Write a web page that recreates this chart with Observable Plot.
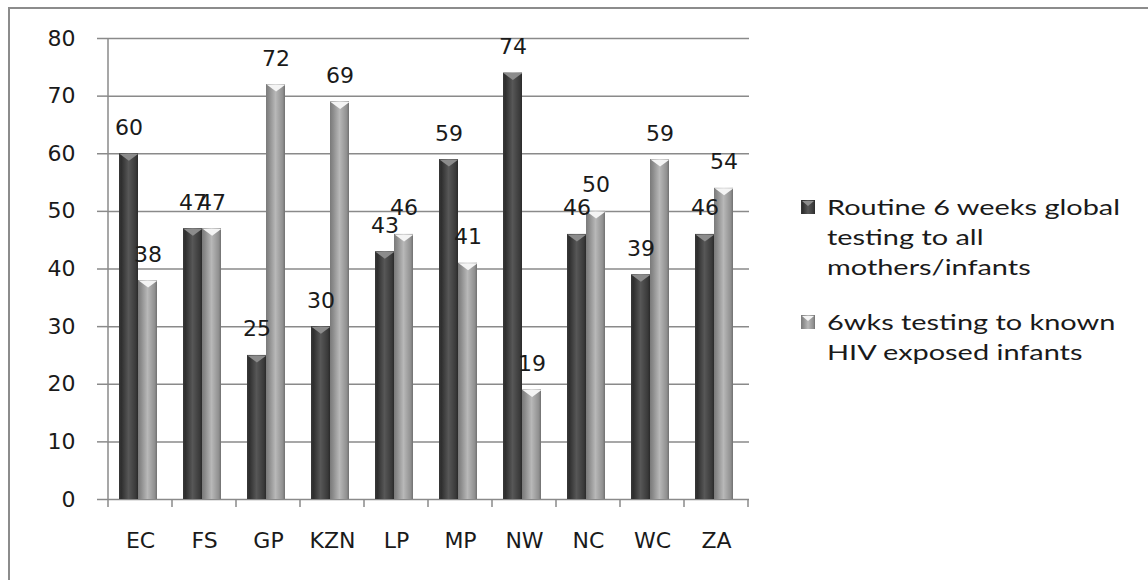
<!DOCTYPE html>
<html><head><meta charset="utf-8">
<script src="https://cdn.jsdelivr.net/npm/d3@7"></script>
<script src="https://cdn.jsdelivr.net/npm/@observablehq/plot@0.6"></script>
<style>
html,body{margin:0;padding:0;background:#fff;}
#wrap{position:relative;width:1148px;height:580px;overflow:hidden;background:#fff;}
#frame{position:absolute;left:8px;top:7px;width:1400px;height:800px;border-top:2px solid #8c8c8c;border-left:2px solid #8c8c8c;box-sizing:border-box;}
#chart{position:absolute;left:0;top:0;}
.item{position:absolute;left:801px;}
.item svg{position:absolute;left:0;}
.txt{position:absolute;left:26px;top:0;font-family:Lato,"Open Sans",sans-serif;font-size:21px;line-height:30px;color:#1a1a1a;white-space:nowrap;transform-origin:0 0;}
</style></head><body>
<div id="wrap"><div id="frame"></div><div id="chart"></div><div id="legend"></div></div>
<script>
// ---- data ----
const provinces = ["EC", "FS", "GP", "KZN", "LP", "MP", "NW", "NC", "WC", "ZA"];
const routine = [60, 47, 25, 30, 43, 59, 74, 46, 39, 46];
const exposed = [38, 47, 72, 69, 46, 41, 19, 50, 59, 54];
const yTicks = [0, 10, 20, 30, 40, 50, 60, 70, 80];
const seriesLabels = [
  ["Routine 6 weeks global", "testing to all", "mothers/infants"],
  ["6wks testing to known", "HIV exposed infants"]
];

const rowsA = provinces.map((p, i) => ({province: p, value: routine[i]}));
const rowsB = provinces.map((p, i) => ({province: p, value: exposed[i]}));

// flat-topped downward triangle (bevel cap on the bars)
const capSymbol = {draw(ctx) { ctx.moveTo(-9.5, 0); ctx.lineTo(9.5, 0); ctx.lineTo(0, 7); ctx.closePath(); }};

function gradDefs() {
  const defs = d3.create("svg:defs");
  const mk = (id, stops) => {
    const g = defs.append("linearGradient").attr("id", id).attr("x1", 0).attr("x2", 1).attr("y1", 0).attr("y2", 0);
    stops.forEach(([o, c]) => g.append("stop").attr("offset", o).attr("stop-color", c));
  };
  mk("gDark", [[0, "#383838"], [0.12, "#2e2e2e"], [0.5, "#575757"], [0.88, "#3a3a3a"], [1, "#2a2a2a"]]);
  mk("gLight", [[0, "#7a7a7a"], [0.15, "#8a8a8a"], [0.5, "#b8b8b8"], [0.88, "#909090"], [1, "#707070"]]);
  return defs.node();
}

function bandTicks(index, scales) {
  const {x, y} = scales;
  const bw = typeof x.bandwidth === "function" ? x.bandwidth() : (x(provinces[1]) - x(provinces[0]));
  const edges = provinces.map(p => x(p)).concat([x(provinces[provinces.length - 1]) + bw]);
  const y0 = y(0);
  const g = d3.create("svg:g").attr("stroke", "#8a8a8a").attr("stroke-width", 1.5);
  edges.forEach(e => g.append("line").attr("x1", e).attr("x2", e).attr("y1", y0).attr("y2", y0 + 8));
  g.append("line").attr("x1", edges[0]).attr("x2", edges[0]).attr("y1", y(0)).attr("y2", y(80));
  return g.node();
}

const font = "DejaVu Sans";
const chart = Plot.plot({
  width: 760, height: 580,
  marginLeft: 107, marginRight: 11, marginTop: 38, marginBottom: 81,
  style: {fontFamily: font, fontSize: "22px", color: "#1a1a1a", background: "transparent"},
  x: {domain: provinces, padding: 0, label: null},
  y: {domain: [0, 80], label: null},
  marks: [
    gradDefs,
    Plot.ruleY(yTicks, {stroke: "#8a8a8a", strokeWidth: 1.5}),
    Plot.axisY({ticks: yTicks, tickSize: 10, tickPadding: 22, stroke: "#8a8a8a", strokeWidth: 1.5, fontSize: 22, fontFamily: font, label: null}),
    Plot.axisX({tickSize: 0, tickPadding: 33, fontSize: 22, fontFamily: font, label: null}),
    bandTicks,
    Plot.barY(rowsA, {x: "province", y: "value", fill: "url(#gDark)", insetLeft: 11, insetRight: 34}),
    Plot.barY(rowsB, {x: "province", y: "value", fill: "url(#gLight)", insetLeft: 30, insetRight: 15}),
    Plot.dot(rowsA, {x: "province", y: "value", symbol: capSymbol, fill: "#8c8c8c", dx: -11.6}),
    Plot.dot(rowsB, {x: "province", y: "value", symbol: capSymbol, fill: "#f4f4f4", dx: 7.6}),
    Plot.text(rowsA, {x: "province", y: "value", text: "value", dx: -11.6, dy: -26, fontSize: 22, fontFamily: font, fill: "#1a1a1a"}),
    Plot.text(rowsB, {x: "province", y: "value", text: "value", dx: 7.6, dy: -26, fontSize: 22, fontFamily: font, fill: "#1a1a1a"})
  ]
});
document.getElementById("chart").appendChild(chart);

// ---- legend ----
const legend = document.getElementById("legend");
const itemTops = [192, 307];
const markerStyles = [["#gDark", "#8c8c8c"], ["#gLight", "#f4f4f4"]];
seriesLabels.forEach((lines, i) => {
  const item = document.createElement("div");
  item.className = "item";
  item.style.top = itemTops[i] + "px";
  const ns = "http://www.w3.org/2000/svg";
  const s = document.createElementNS(ns, "svg");
  s.setAttribute("width", 14); s.setAttribute("height", 14);
  s.style.top = "8px";
  s.innerHTML = `<rect width="14" height="14" fill="url(${markerStyles[i][0]})"/><path d="M1,1L13,1L7,6Z" fill="${markerStyles[i][1]}"/>`;
  item.appendChild(s);
  const t = document.createElement("div");
  t.className = "txt";
  t.innerHTML = lines.join("<br>");
  item.appendChild(t);
  legend.appendChild(item);
});
// horizontal stretch of legend text to match the reference's wide rendering
const txts = [...document.querySelectorAll(".txt")];
const w0 = txts[0].getBoundingClientRect().width;
const k = 293 / w0;
txts.forEach(t => t.style.transform = `scaleX(${k})`);
</script>
</body></html>
